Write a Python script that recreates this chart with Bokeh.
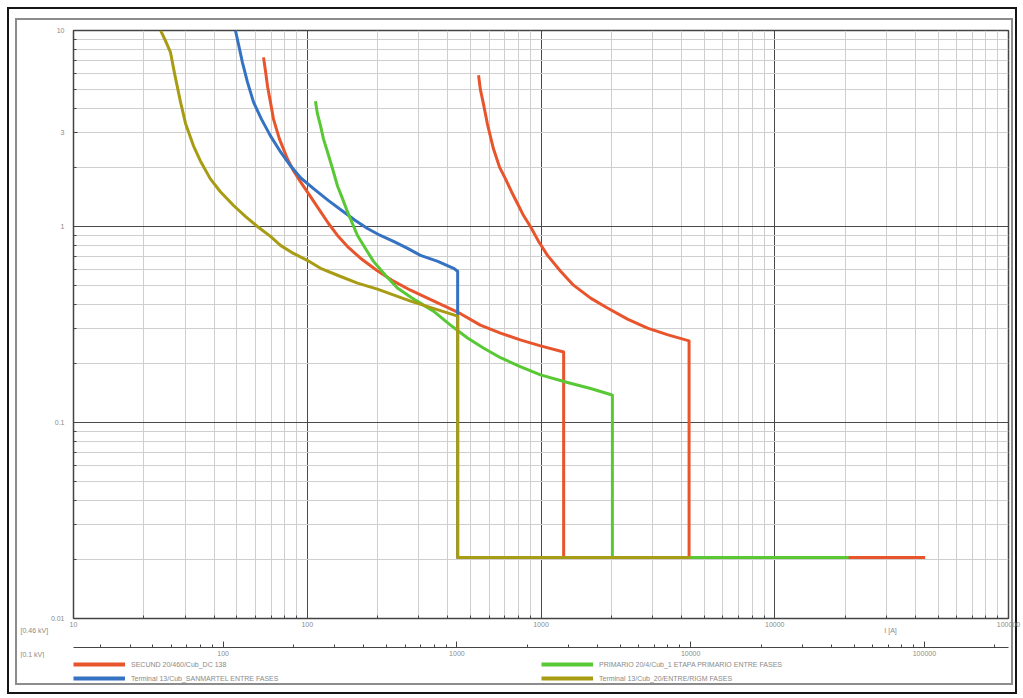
from bokeh.plotting import figure
from bokeh.layouts import column
from bokeh.models import (LogAxis, Range1d, FixedTicker, Legend, LegendItem, Label)
from bokeh.embed import file_html
from bokeh.resources import INLINE

# ---------------- data (current [A], time [s]) ----------------
red_a_I = [65.0, 66.3, 67.6, 69.6, 71.7, 76.0, 82.3, 87.3, 93.6, 103.3, 114.0, 123.3, 134.7, 150.0, 169.0,
           198.0, 233.9, 276.6, 326.8, 439.5, 550.0, 671.0, 815.0, 995.0, 1250.0, 1250.0, 4360.0]
red_a_t = [7.29, 6.19, 5.20, 4.31, 3.53, 2.80, 2.21, 1.925, 1.69, 1.42, 1.19, 1.036, 0.900, 0.782, 0.689,
           0.598, 0.526, 0.473, 0.431, 0.366, 0.314, 0.286, 0.264, 0.246, 0.229, 0.0205, 0.0205]

red_b_I = [540.6, 550.0, 567.6, 590.0, 626.0, 664.0, 704.8, 748.0, 793.0, 842.0, 901.0, 977.0, 1066.0,
           1213.0, 1377.0, 1630.0, 1924.0, 2345.0, 2856.0, 3495.0, 4300.0, 4300.0, 44000.0]
red_b_t = [5.91, 5.02, 4.21, 3.33, 2.49, 2.016, 1.75, 1.505, 1.31, 1.137, 1.00, 0.839, 0.712,
           0.591, 0.502, 0.431, 0.384, 0.337, 0.303, 0.280, 0.261, 0.0205, 0.0205]

blue_I = [49.3, 50.8, 52.8, 55.5, 58.9, 63.6, 69.6, 76.9, 84.8, 93.6, 106.4, 123.3, 142.9, 160.6, 181.0,
          205.5, 233.9, 268.8, 305.0, 362.0, 422.6, 440.0, 440.0, 4360.0]
blue_t = [10.0, 8.51, 6.88, 5.45, 4.31, 3.54, 2.90, 2.40, 2.04, 1.773, 1.56, 1.355, 1.19, 1.073, 0.977,
          0.900, 0.839, 0.773, 0.712, 0.664, 0.612, 0.591, 0.0205, 0.0205]

green_I = [108.4, 110.6, 114.0, 117.3, 122.1, 128.3, 134.7, 141.5, 148.6, 156.0, 164.0, 177.4, 192.0, 216.0,
           243.0, 290.0, 346.8, 410.0, 485.0, 567.0, 671.0, 815.0, 995.0, 1298.0, 1630.0, 1983.0, 2020.0,
           2020.0, 20700.0]
green_t = [4.36, 3.75, 3.26, 2.80, 2.40, 1.97, 1.61, 1.387, 1.19, 1.036, 0.900, 0.773, 0.664, 0.564,
           0.485, 0.421, 0.370, 0.314, 0.270, 0.240, 0.214, 0.193, 0.175, 0.160, 0.149, 0.139, 0.138,
           0.0205, 0.0205]

olive_I = [23.6, 24.7, 26.0, 27.1, 28.7, 30.2, 32.6, 34.9, 38.5, 42.5, 48.4, 54.5, 61.2, 69.6, 76.8, 87.3,
           100.0, 114.0, 134.7, 164.0, 199.7, 276.6, 440.0, 440.0, 4360.0]
olive_t = [10.0, 8.90, 7.73, 5.98, 4.31, 3.33, 2.58, 2.16, 1.75, 1.505, 1.28, 1.124, 1.00, 0.890, 0.801, 0.729,
           0.672, 0.612, 0.564, 0.514, 0.479, 0.416, 0.349, 0.0205, 0.0205]

series_names = [
    "SECUND 20/460/Cub_DC 138",
    "Terminal 13/Cub_SANMARTEL ENTRE FASES",
    "PRIMARIO 20/4/Cub_1 ETAPA PRIMARIO ENTRE FASES",
    "Terminal 13/Cub_20/ENTRE/RIGM FASES",
]
series_colors = ["#e8552c", "#3572c2", "#58c834", "#a89c14"]

x_ticks = [10, 100, 1000, 10000, 100000]
x_tick_labels = ["10", "100", "1000", "10000", "100000"]
x2_ticks = [100, 1000, 10000, 100000]
x2_tick_labels = ["100", "1000", "10000", "100000"]
y_ticks = [0.01, 0.1, 1, 3, 10]
y_tick_labels = ["0.01", "0.1", "1", "3", "10"]

x_range = (10, 100000)
x2_range = (22.9, 229000)
y_range = (0.01, 10)

scale_captions = ["[0.46 kV]", "[0.1 kV]"]
unit_caption = "I [A]"

# ---------------- styling helpers ----------------
FONT = "Liberation Sans"
TXT = "#8a8a8a"
AX = "#444444"
BLACK = "#151515"
GRAY = "#8c8c8c"

def frame_shadow(edges):
    # edges: side -> (outer white end, black end, inner white end, gray end) in px from that side
    vec = {"left": "{}px 0", "right": "-{}px 0", "top": "0 {}px", "bottom": "0 -{}px"}
    layers = []
    for idx, col in enumerate(["#ffffff", BLACK, "#ffffff", GRAY]):
        for side, vals in edges.items():
            layers.append("inset " + vec[side].format(vals[idx]) + " 0 0 " + col)
    return ", ".join(layers)

side_lr = {"left": (7, 9, 15, 17), "right": (6, 8, 10, 12)}

# ---------------- main figure ----------------
p = figure(width=1023, height=658, x_axis_type="log", y_axis_type="log",
           x_range=Range1d(*x_range), y_range=Range1d(*y_range),
           output_backend="svg", toolbar_location=None,
           min_border_left=73, min_border_right=15, min_border_top=30, min_border_bottom=38,
           background_fill_color="white", border_fill_color=None)
p.styles = {"background-color": "white",
            "box-shadow": frame_shadow({**side_lr, "top": (7, 9, 18, 20)})}
p.outline_line_color = AX
p.outline_line_width = 1.5

def decade_minors(lo_exp, hi_exp):
    return [m * 10.0 ** e for e in range(lo_exp, hi_exp) for m in range(2, 10)]

x_minor = decade_minors(1, 6)
y_minor = decade_minors(-2, 1)
x2_minor = decade_minors(1, 6)

p.xgrid.ticker = FixedTicker(ticks=x_ticks, minor_ticks=x_minor)
p.ygrid.ticker = FixedTicker(ticks=[t for t in y_ticks if t != 3], minor_ticks=y_minor)
for g in (p.xgrid, p.ygrid):
    g.grid_line_color = "#4a4a4a"
    g.grid_line_width = 1
    g.minor_grid_line_color = "#cfcfcf"
    g.minor_grid_line_width = 1

def style_axis(ax, tick_in, standoff):
    ax.major_tick_in = tick_in
    ax.major_tick_out = 0
    ax.minor_tick_in = 3
    ax.minor_tick_out = 0
    ax.axis_line_color = AX
    ax.major_tick_line_color = AX
    ax.minor_tick_line_color = AX
    ax.major_label_standoff = standoff
    ax.major_label_text_font = FONT
    ax.major_label_text_font_size = "7px"
    ax.major_label_text_color = TXT

ya = p.yaxis[0]
ya.ticker = FixedTicker(ticks=y_ticks, minor_ticks=y_minor)
ya.major_label_overrides = {t: l for t, l in zip(y_ticks, y_tick_labels)}
style_axis(ya, 4, 9)

xa = p.xaxis[0]
xa.ticker = FixedTicker(ticks=x_ticks, minor_ticks=x_minor)
xa.major_label_overrides = {t: l for t, l in zip(x_ticks, x_tick_labels)}
style_axis(xa, 5, 3)
xa.axis_label = " "
xa.axis_label_standoff = 6
xa.axis_label_text_font_size = "8px"

p.extra_x_ranges = {"x2": Range1d(*x2_range)}
p.extra_x_scales = {"x2": p.x_scale.__class__()}
xa2 = LogAxis(x_range_name="x2", ticker=FixedTicker(ticks=x2_ticks, minor_ticks=x2_minor))
xa2.major_label_overrides = {t: l for t, l in zip(x2_ticks, x2_tick_labels)}
style_axis(xa2, 6, 3)
p.add_layout(xa2, "below")

p.line(red_a_I, red_a_t, line_color=series_colors[0], line_width=3, line_join="round")
p.line(red_b_I, red_b_t, line_color=series_colors[0], line_width=3, line_join="round")
p.line(blue_I, blue_t, line_color=series_colors[1], line_width=3, line_join="round")
p.line(green_I, green_t, line_color=series_colors[2], line_width=3, line_join="round")
p.line(olive_I, olive_t, line_color=series_colors[3], line_width=3, line_join="round")

# captions (kept in a side panel so they are not clipped to the plot frame)
cap_kw = dict(text_font=FONT, text_font_size="7px", text_color=TXT, text_baseline="middle")
p.add_layout(Label(x=5.93, y=0.00869, text=scale_captions[0], text_align="left", **cap_kw), "above")
p.add_layout(Label(x=5.93, y=0.00656, text=scale_captions[1], text_align="left", **cap_kw), "above")
p.add_layout(Label(x=31300, y=0.00869, text=unit_caption, text_align="center", **cap_kw), "above")

# ---------------- legend strip ----------------
pl = figure(width=1023, height=40, x_axis_location=None, y_axis_location=None,
            output_backend="svg", toolbar_location=None,
            x_range=Range1d(0, 1), y_range=Range1d(0, 1),
            min_border_left=73, min_border_right=15, min_border_top=0, min_border_bottom=0,
            background_fill_color=None, border_fill_color=None)
pl.styles = {"background-color": "white",
             "box-shadow": frame_shadow({**side_lr, "bottom": (4, 6, 13, 15)})}
pl.outline_line_color = None
pl.xgrid.visible = False
pl.ygrid.visible = False
swatches = [pl.line([-1], [-1], line_color=c, line_width=4) for c in series_colors]
legend = Legend(items=[LegendItem(label=n, renderers=[r]) for n, r in zip(series_names, swatches)],
                location="top_left", orientation="vertical", ncols=2)
legend.glyph_width = 52
legend.glyph_height = 12
legend.label_height = 12
legend.label_standoff = 6
legend.label_width = 408
legend.spacing = 2
legend.padding = 0
legend.margin = 0
legend.border_line_color = None
legend.background_fill_alpha = 0
legend.label_text_font = FONT
legend.label_text_font_size = "7px"
legend.label_text_color = TXT
pl.add_layout(legend, "center")

layout = column(p, pl, spacing=0)
open("out.html", "w").write(file_html(layout, INLINE))
